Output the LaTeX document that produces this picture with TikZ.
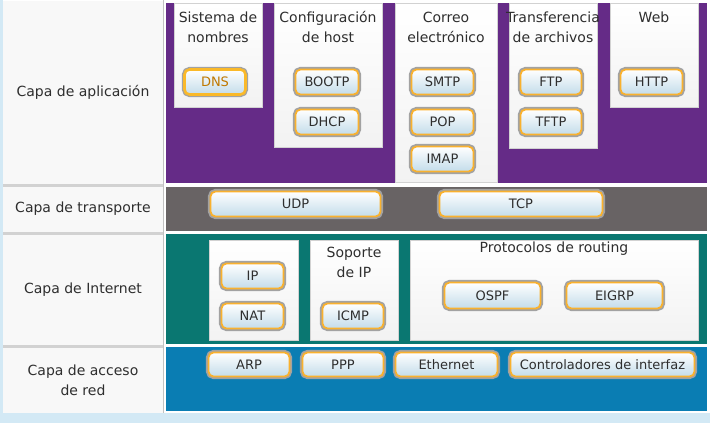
\documentclass[tikz,border=0pt]{standalone}
\usepackage{fontspec}
\setmainfont{DejaVu Sans}
\usetikzlibrary{shadows}
\definecolor{bgblue}{HTML}{D3E9F5}
\definecolor{colbg}{HTML}{F8F8F8}
\definecolor{sepgray}{HTML}{D2D2D2}
\definecolor{appc}{HTML}{652B87}
\definecolor{trac}{HTML}{686364}
\definecolor{intc}{HTML}{0A7771}
\definecolor{accc}{HTML}{0A7DB3}
\definecolor{btnorange}{HTML}{F9B12E}
\definecolor{btngray}{HTML}{A2A2A2}
\definecolor{btnblue}{HTML}{C3DCEA}
\definecolor{txt}{HTML}{2E2E2E}
\definecolor{dnstxt}{HTML}{C07800}
\newcommand{\lblfont}{\fontsize{14}{20}\selectfont}
\newcommand{\btnfont}{\fontsize{13}{16}\selectfont}
\tikzset{
  x=1pt, y=-1pt,
  panel/.style={draw=none, inner sep=0pt, outer sep=0pt},
  labelbox/.style={draw=none, fill=colbg, inner sep=0pt, text=txt, font=\lblfont, align=center},
  grp/.style={draw=gray!35, line width=0.4pt, top color=white, bottom color=gray!10, inner sep=0pt,
    drop shadow={shadow xshift=1.2pt, shadow yshift=-1.2pt, opacity=0.35, fill=black}},
  hdr/.style={text=txt, font=\lblfont, align=center, inner sep=0pt},
  btn/.style={rounded corners=5pt, draw=btnorange, line width=1.8pt, top color=white, bottom color=btnblue,
    preaction={draw=btngray, line width=5.2pt}, inner sep=0pt, font=\btnfont, text=txt},
  dnsbtn/.style={btn, line width=2.6pt, draw=btnorange!90!yellow, text=dnstxt}
}
\begin{document}
\begin{tikzpicture}
\useasboundingbox (0,0) rectangle (710,423);
\fill[bgblue] (0,0) rectangle (710,423);
\fill[white] (3,0) rectangle (710,413);
% label column
\node[labelbox, minimum width=160, minimum height=183] (lapp) at (83,92.5) {Capa de aplicación};
\node[labelbox, minimum width=160, minimum height=45] (ltra) at (83,209) {Capa de transporte};
\node[labelbox, minimum width=160, minimum height=110] (lint) at (83,289.5) {Capa de Internet};
\node[labelbox, minimum width=160, minimum height=65] (lacc) at (83,380) {Capa de acceso\\de red};
\fill[sepgray] (3,184) rectangle (163,186.5);
\fill[sepgray] (3,232) rectangle (163,234.5);
\fill[sepgray] (3,345) rectangle (163,347.5);
\fill[sepgray!80!gray] (162.5,0) rectangle (164,413);
% coloured panels
\node[panel, fill=appc, minimum width=541, minimum height=180] (papp) at (436.5,93) {};
\node[panel, fill=trac, minimum width=541, minimum height=44] (ptra) at (436.5,209) {};
\node[panel, fill=intc, minimum width=541, minimum height=110] (pint) at (436.5,289) {};
\node[panel, fill=accc, minimum width=541, minimum height=64] (pacc) at (436.5,379) {};
% application groups
\node[grp, minimum width=88, minimum height=104] (gdns) at (218,55) {};
\node[grp, minimum width=108, minimum height=144] (ghost) at (328,75) {};
\node[grp, minimum width=102, minimum height=179] (gmail) at (446,92.5) {};
\node[grp, minimum width=88, minimum height=145] (gfile) at (553,75.5) {};
\node[grp, minimum width=88, minimum height=104] (gweb) at (654,55) {};
\node[hdr] (hdns) at (218,27) {Sistema de\\nombres};
\node[hdr] (hhost) at (328,27) {Configuración\\de host};
\node[hdr] (hmail) at (446,27) {Correo\\electrónico};
\node[hdr] (hfile) at (553,27) {Transferencia\\de archivos};
\node[hdr] (hweb) at (654,17) {Web};
% application buttons
\node[dnsbtn, minimum width=61, minimum height=25] (dns) at (215,82) {DNS};
\node[btn, minimum width=63, minimum height=25] (bootp) at (327,82) {BOOTP};
\node[btn, minimum width=63, minimum height=25] (dhcp) at (327,122) {DHCP};
\node[btn, minimum width=62, minimum height=25] (smtp) at (442.5,82) {SMTP};
\node[btn, minimum width=62, minimum height=25] (pop) at (442.5,122) {POP};
\node[btn, minimum width=62, minimum height=25] (imap) at (442.5,159) {IMAP};
\node[btn, minimum width=61, minimum height=25] (ftp) at (551,82) {FTP};
\node[btn, minimum width=61, minimum height=25] (tftp) at (551,122) {TFTP};
\node[btn, minimum width=62, minimum height=25] (http) at (651.5,82) {HTTP};
% transport
\node[btn, minimum width=170, minimum height=25] (udp) at (295.5,204) {UDP};
\node[btn, minimum width=163, minimum height=25] (tcp) at (521,204) {TCP};
% internet
\node[grp, minimum width=89, minimum height=100] (gip) at (253.5,290) {};
\node[grp, minimum width=88, minimum height=100] (gicmp) at (354,290) {};
\node[grp, minimum width=288, minimum height=100] (grout) at (554,290) {};
\node[hdr] (hicmp) at (354,262) {Soporte\\de IP};
\node[hdr] (hrout) at (554,249) {Protocolos de routing};
\node[btn, minimum width=62, minimum height=25] (ip) at (252.5,276) {IP};
\node[btn, minimum width=62, minimum height=25] (nat) at (252.5,316) {NAT};
\node[btn, minimum width=61, minimum height=25] (icmp) at (353,316) {ICMP};
\node[btn, minimum width=96, minimum height=26] (ospf) at (492.5,295.5) {OSPF};
\node[btn, minimum width=96, minimum height=26] (eigrp) at (614.5,295.5) {EIGRP};
% network access
\node[btn, minimum width=81, minimum height=24] (arp) at (249,364.5) {ARP};
\node[btn, minimum width=81, minimum height=24] (ppp) at (343,364.5) {PPP};
\node[btn, minimum width=102, minimum height=24] (eth) at (446.5,364.5) {Ethernet};
\node[btn, minimum width=184, minimum height=24] (ctrl) at (602.5,364.5) {Controladores de interfaz};
\end{tikzpicture}
\end{document}
